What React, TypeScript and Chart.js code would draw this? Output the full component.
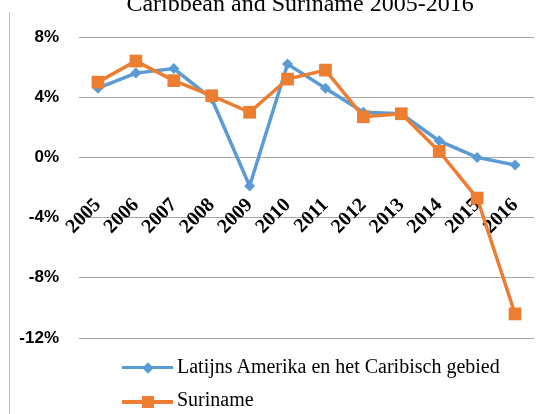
import React, { useEffect, useRef } from "react";
import { Chart, registerables } from "chart.js";

Chart.register(...registerables);

const TITLE = "Caribbean and Suriname 2005-2016";
const YEARS = ["2005", "2006", "2007", "2008", "2009", "2010", "2011", "2012", "2013", "2014", "2015", "2016"];
const LATAM_LABEL = "Latijns Amerika en het Caribisch gebied";
const LATAM = [4.6, 5.6, 5.9, 3.9, -1.9, 6.2, 4.6, 3.0, 2.9, 1.1, 0.0, -0.5];
const SURINAME_LABEL = "Suriname";
const SURINAME = [5.0, 6.4, 5.1, 4.1, 3.0, 5.2, 5.8, 2.7, 2.9, 0.4, -2.7, -10.4];
const Y_MIN = -12;
const Y_MAX = 8;
const Y_STEP = 4;

const BLUE = "#5B9BD5";
const ORANGE = "#ED7D31";

export default function App() {
  const ref = useRef<HTMLCanvasElement | null>(null);

  useEffect(() => {
    if (!ref.current) return;
    const chart = new Chart(ref.current, {
      type: "line",
      data: {
        labels: YEARS,
        datasets: [
          {
            label: LATAM_LABEL,
            data: LATAM,
            borderColor: BLUE,
            backgroundColor: BLUE,
            borderWidth: 3.5,
            pointStyle: "rectRot",
            pointRadius: 5.5,
            pointBorderWidth: 0,
            tension: 0,
            order: 1,
          },
          {
            label: SURINAME_LABEL,
            data: SURINAME,
            borderColor: ORANGE,
            backgroundColor: ORANGE,
            borderWidth: 3.5,
            pointStyle: "rect",
            pointRadius: 9,
            pointBorderWidth: 0,
            tension: 0,
            order: 0,
          },
        ],
      },
      options: {
        responsive: false,
        animation: false,
        devicePixelRatio: 1,
        layout: { padding: { left: 0, right: 4, top: 37, bottom: 76 } },
        plugins: { legend: { display: false }, title: { display: false }, tooltip: { enabled: false } },
        scales: {
          x: {
            type: "category",
            position: { y: -2.2 } as any,
            offset: true,
            grid: { display: false, drawTicks: false },
            border: { display: false },
            ticks: {
              autoSkip: false,
              minRotation: 45,
              maxRotation: 45,
              padding: 3,
              color: "#000",
              font: { family: "'Liberation Serif', 'Times New Roman', serif", size: 20, weight: "bold" },
            },
          },
          y: {
            min: Y_MIN,
            max: Y_MAX,
            afterFit: (scale: any) => {
              scale.width = 79;
            },
            grid: { color: "#a6a6a6", lineWidth: 1, drawTicks: false },
            border: { display: false },
            ticks: {
              stepSize: Y_STEP,
              padding: 20,
              color: "#000",
              callback: (v: any) => `${v}%`,
              font: { family: "'Liberation Sans', Arial, sans-serif", size: 17, weight: "bold" },
            },
          },
        },
      },
    });
    return () => chart.destroy();
  }, []);

  const serif = "'Liberation Serif', 'Times New Roman', serif";

  return (
    <div style={{ position: "absolute", left: 0, top: 0, width: 537, height: 414, overflow: "hidden", background: "#fff" }}>
      <canvas ref={ref} width={543} height={414} style={{ position: "absolute", left: 0, top: 0, width: 543, height: 414 }} />
      <div style={{ position: "absolute", left: 0, top: -9, width: 600, textAlign: "center", fontFamily: serif, fontSize: 24, lineHeight: "24px", whiteSpace: "nowrap", color: "#000" }}>
        {TITLE}
      </div>
      <div style={{ position: "absolute", left: 9, top: 12, width: 1, height: 402, background: "#bfbfbf" }} />
      {/* legend row 1 */}
      <div style={{ position: "absolute", left: 122, top: 366, width: 51, height: 3, background: BLUE }} />
      <div style={{ position: "absolute", left: 144, top: 363.5, width: 8, height: 8, background: BLUE, transform: "rotate(45deg)" }} />
      <div style={{ position: "absolute", left: 177, top: 356, fontFamily: serif, fontSize: 20, lineHeight: "20px", whiteSpace: "nowrap", color: "#000" }}>
        {LATAM_LABEL}
      </div>
      {/* legend row 2 */}
      <div style={{ position: "absolute", left: 122, top: 400, width: 51, height: 3.5, background: ORANGE }} />
      <div style={{ position: "absolute", left: 142, top: 396, width: 12, height: 12, background: ORANGE }} />
      <div style={{ position: "absolute", left: 177, top: 389, fontFamily: serif, fontSize: 20, lineHeight: "20px", whiteSpace: "nowrap", color: "#000" }}>
        {SURINAME_LABEL}
      </div>
    </div>
  );
}
